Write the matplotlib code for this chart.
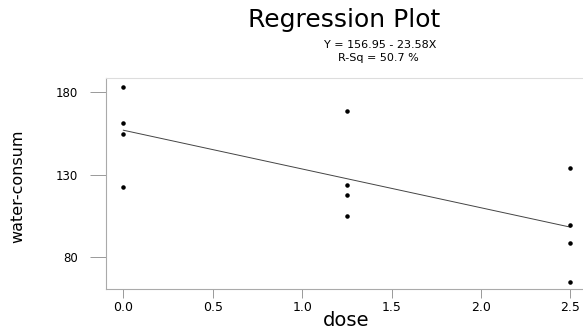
import matplotlib.pyplot as plt
import numpy as np

# dose levels and measured water consumption
dose = [0.0, 0.0, 0.0, 0.0, 1.25, 1.25, 1.25, 1.25, 2.5, 2.5, 2.5, 2.5]
water = [183.4, 161.5, 154.5, 122.5, 168.8, 123.9, 117.8, 104.8, 133.8, 99.2, 88.5, 64.8]

# fitted line as reported
intercept = 156.95
slope = -23.58
r_sq = 50.7

xticks = [0.0, 0.5, 1.0, 1.5, 2.0, 2.5]
yticks = [80, 130, 180]

plt.rcParams['font.family'] = ['DejaVu Sans']

fig = plt.figure(figsize=(5.83, 3.33), dpi=100)
ax = fig.add_axes([106 / 583, 1 - 289 / 333, 1 - 106 / 583, (289 - 78) / 333])

ax.scatter(dose, water, s=5, color='black', zorder=3)
xl = np.array([min(dose), max(dose)])
ax.plot(xl, intercept + slope * xl, color='#444444', lw=0.7)

ax.set_xlim(-0.097, 2.57)
ax.set_ylim(60.4, 188.7)
ax.set_xticks(xticks)
ax.set_xticklabels(['%.1f' % t for t in xticks], fontsize=9)
ax.set_yticks(yticks)
ax.set_yticklabels([str(t) for t in yticks], fontsize=8.5)
ax.tick_params(axis='y', length=11.5, width=0.7, color='#999999', pad=9)
ax.tick_params(axis='x', length=6.5, width=0.7, color='#999999', pad=2)

ax.spines['right'].set_visible(False)
ax.spines['top'].set_color('#dddddd')
ax.spines['left'].set_color('#aaaaaa')
ax.spines['bottom'].set_color('#aaaaaa')
for s in ax.spines.values():
    s.set_linewidth(0.8)

fig.text(346 / 583, 1 - 321 / 333, 'dose', fontsize=14, ha='center', va='center')
fig.text(18 / 583, 1 - 186 / 333, 'water-consum', fontsize=11.5,
         rotation=90, ha='center', va='center')

fig.text(344 / 583, 1 - 20 / 333, 'Regression Plot', fontsize=18,
         ha='center', va='center')
fig.text(380 / 583, 1 - 45 / 333, 'Y = %.2f - %.2fX' % (intercept, -slope),
         fontsize=8, ha='center', va='center')
fig.text(378 / 583, 1 - 58 / 333, 'R-Sq = %.1f %%' % r_sq,
         fontsize=8, ha='center', va='center')

fig.savefig('out.png', dpi=100)
